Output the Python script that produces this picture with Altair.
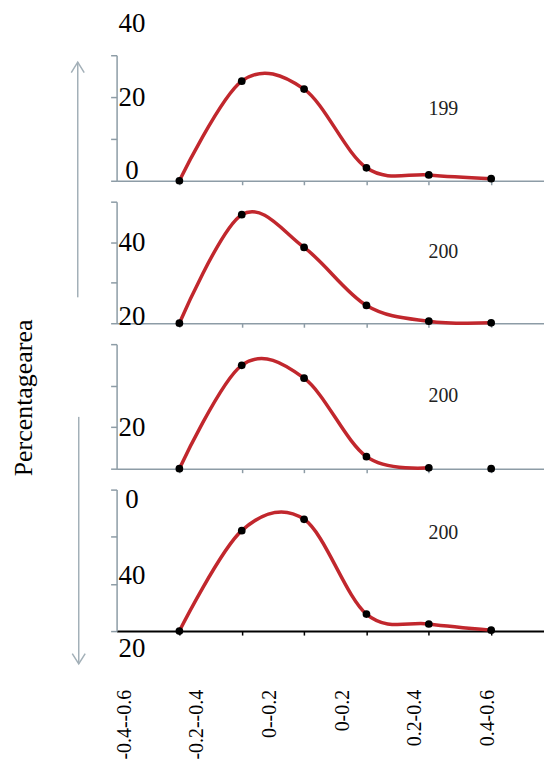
import altair as alt
import pandas as pd

# ---- data ----
cats = ["-0.4--0.6", "-0.2--0.4", "0--0.2", "0-0.2", "0.2-0.4", "0.4-0.6"]

p1_vals = [0, 23.8, 21.9, 3.1, 1.4, 0.5]
p2_vals = [20, 46.8, 38.7, 24.4, 20.5, 20.1]
p3_vals = [10, 34.9, 31.8, 12.9, 10.2, 10.0]
p4_vals = [0, 21.3, 23.7, 3.6, 1.5, 0.2]
p3_on_line = [True, True, True, True, True, False]

p1_domain = [0, 30]
p2_domain = [20, 50]
p3_domain = [10, 40]
p4_domain = [0, 30]

p1_ticks = [0, 10, 20, 30]
p2_ticks = [20, 30, 40, 50]
p3_ticks = [10, 20, 30, 40]
p4_ticks = [0, 10, 20, 30]

p1_tick_labels = ["0", "", "20", "40"]
p2_tick_labels = ["20", "", "40", ""]
p3_tick_labels = ["", "20", "", ""]
p4_tick_labels = ["20", "40", "", "0"]

years = ["199", "200", "200", "200"]
y_title = "Percentagearea"

# ---- styles ----
SERIF = "Liberation Serif"
AXIS_GRAY = "#8d9ca6"
ARROW_GRAY = "#a3b0b8"
RED = "#c1272d"
W = 429

p1_offsets = [-10, 0, 0, -32]
p2_offsets = [-7, 0, 0, 0]
p3_offsets = [0, 0, 0, 0]
p4_offsets = [18, -8, 0, 10]


def label_expr(vals, labs):
    arr_v = "[" + ",".join(str(v) for v in vals) + "]"
    arr_l = "[" + ",".join("'" + l + "'" for l in labs) + "]"
    return f"{arr_l}[indexof({arr_v}, datum.value)]"


def offset_cond(vals, offs):
    conds = [{"test": f"datum.value === {v}", "value": o} for v, o in zip(vals, offs) if o != 0]
    if not conds:
        return 0
    return {"condition": conds, "value": 0}


def panel(vals, dom, ticks, labs, offs, height, year, year_y, bottom=False, on_line=None):
    df = pd.DataFrame({"cat": cats, "value": vals,
                       "on": on_line if on_line is not None else [True] * len(cats)})
    dcol = "black" if bottom else AXIS_GRAY
    xenc = alt.X("cat:N", sort=cats,
                 scale=alt.Scale(type="point", padding=0.927, align=0.543),
                 axis=alt.Axis(title=None, labels=False, domainColor=dcol,
                               domainWidth=2 if bottom else 1.5, tickColor=dcol,
                               tickWidth=1.5, tickSize=4))
    yenc = alt.Y("value:Q", scale=alt.Scale(domain=dom, nice=False, zero=False),
                 axis=alt.Axis(title=None, values=ticks, labelExpr=label_expr(ticks, labs),
                               domainColor=AXIS_GRAY, domainWidth=1.5, tickColor=AXIS_GRAY,
                               tickWidth=1.5, tickSize=6, labelFont=SERIF, labelFontSize=27,
                               labelColor="black", labelAlign="center", labelPadding=-21,
                               labelOffset=offset_cond(ticks, offs), grid=False))
    base = alt.Chart(df)
    line = base.transform_filter("datum.on").mark_line(
        color=RED, strokeWidth=3.5, interpolate="cardinal").encode(x=xenc, y=yenc)
    pts = base.mark_point(filled=True, color="black", size=60, opacity=1).encode(x=xenc, y=yenc)
    ytxt = alt.Chart(pd.DataFrame({"t": [year]})).mark_text(
        font=SERIF, fontSize=20, align="center", baseline="top", color="#222").encode(
        x=alt.value(328), y=alt.value(year_y), text="t:N")
    return [line, pts, ytxt], height


def arrow(x, y_from, y_to, head_up):
    df = pd.DataFrame({"a": [0]})
    rule = alt.Chart(df).mark_rule(color=ARROW_GRAY, strokeWidth=1.5).encode(
        x=alt.value(x), y=alt.value(y_from), y2=alt.value(y_to))
    path = "M-1,1.6L0,0L1,1.6" if head_up else "M-1,-1.6L0,0L1,-1.6"
    head = alt.Chart(df).mark_point(shape=path, filled=False, size=169, color=ARROW_GRAY,
                                    strokeWidth=1.5, opacity=1).encode(
        x=alt.value(x), y=alt.value(y_from if head_up else y_to))
    return [rule, head]


l1, h1 = panel(p1_vals, p1_domain, p1_ticks, p1_tick_labels, p1_offsets, 126, years[0], 44)
l2, h2 = panel(p2_vals, p2_domain, p2_ticks, p2_tick_labels, p2_offsets, 122, years[1], 41)
l3, h3 = panel(p3_vals, p3_domain, p3_ticks, p3_tick_labels, p3_offsets, 125, years[2], 42,
               on_line=p3_on_line)
l4, h4 = panel(p4_vals, p4_domain, p4_ticks, p4_tick_labels, p4_offsets, 142, years[3], 34,
               bottom=True)

l1 += arrow(-39, 7, 243, True)
l3 += arrow(-38, 73, 321, False)

title = alt.Chart(pd.DataFrame({"t": [y_title]})).mark_text(
    font=SERIF, fontSize=26, angle=270, align="center", baseline="middle", color="black").encode(
    x=alt.value(-93), y=alt.value(54), text="t:N")
l3.append(title)

xlabels = alt.Chart(pd.DataFrame({"lab": cats})).mark_text(
    font=SERIF, fontSize=20, angle=270, align="right", baseline="middle", color="black").encode(
    x=alt.X("lab:N", sort=cats, scale=alt.Scale(type="point", range=[8, 373], padding=0), axis=None),
    y=alt.value(142 + 59), text="lab:N")

c1 = alt.layer(*l1).properties(width=W, height=h1)
c2 = alt.layer(*l2).properties(width=W, height=h2)
c3 = alt.layer(*l3).properties(width=W, height=h3)
c4 = alt.layer(alt.layer(*l4), xlabels).properties(width=W, height=h4).resolve_scale(x="independent")

chart = alt.vconcat(c1, c2, c3, c4, spacing=21, bounds="flush").properties(
    padding={"left": 3, "top": 0, "right": 0, "bottom": 0}
).configure_view(stroke=None).configure_axis(grid=False)

chart.save("out.html", embed_options={"renderer": "svg", "actions": False})
